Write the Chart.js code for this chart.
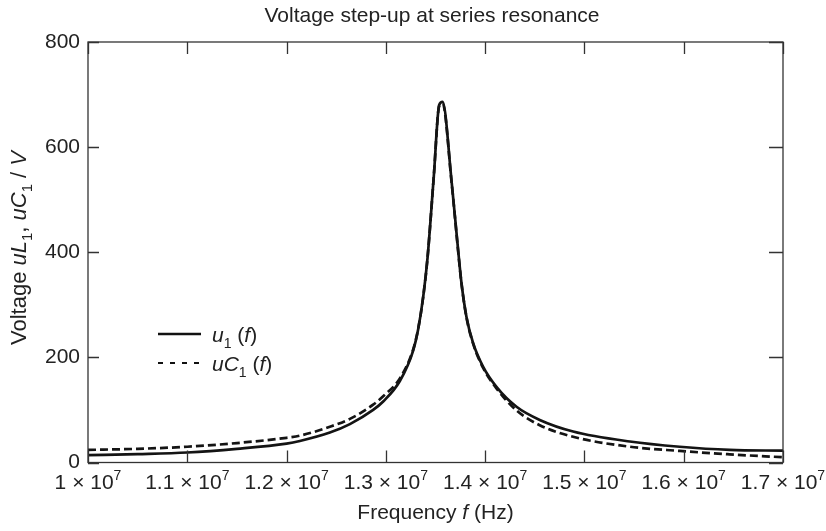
<!DOCTYPE html>
<html><head><meta charset="utf-8">
<script src="https://cdn.jsdelivr.net/npm/chart.js@4/dist/chart.umd.min.js"></script>
<style>html,body{margin:0;padding:0;background:#fff}#wrap{width:826px;height:531px}</style>
</head><body><div id="wrap"><canvas id="c" width="826" height="531"></canvas></div>
<script>
// ---- data ----
const freqs = [1.0e7, 1.05e7, 1.1e7, 1.15e7, 1.2e7, 1.2134e7, 1.2436e7, 1.2638e7, 1.2872e7, 1.2973e7,
  1.3141e7, 1.3275e7, 1.3326e7, 1.3376e7, 1.342e7, 1.3483e7, 1.3537e7, 1.3571e7, 1.3662e7, 1.3728e7,
  1.3762e7, 1.3812e7, 1.3879e7, 1.398e7, 1.4114e7, 1.4316e7, 1.455e7, 1.4886e7, 1.5457e7, 1.596e7,
  1.6463e7, 1.7e7];
const u1Vals = [14, 16, 19, 26, 36, 41, 57, 73, 100, 116,
  155, 213, 254, 315, 390, 545, 680, 686, 535, 404,
  341, 277, 227, 182, 144, 106, 81, 59, 40, 30,
  24, 22.5];
const uC1Vals = [24, 26, 30, 37, 47, 51, 68, 83, 110, 126,
  160, 215, 255, 315, 390, 545, 678, 683, 533, 402,
  340, 276, 226, 180, 141, 99, 71, 49, 30, 22,
  15.5, 10];
const xTickValues = [1.0e7, 1.1e7, 1.2e7, 1.3e7, 1.4e7, 1.5e7, 1.6e7, 1.7e7];
const xTickMantissa = ['1', '1.1', '1.2', '1.3', '1.4', '1.5', '1.6', '1.7'];
const yTickValues = [0, 200, 400, 600, 800];
const titleText = 'Voltage step-up at series resonance';
const seriesNames = [
  [{t:'u',it:1},{t:'1',sub:1},{t:' ('},{t:'f',it:1},{t:')'}],
  [{t:'uC',it:1},{t:'1',sub:1},{t:' ('},{t:'f',it:1},{t:')'}]
];
const xTitle = [{t:'Frequency '},{t:'f',it:1},{t:' (Hz)'}];
const yTitle = [{t:'Voltage '},{t:'uL',it:1},{t:'1',sub:1},{t:', '},{t:'uC',it:1},{t:'1',sub:1},{t:' / '},{t:'V',it:1}];

const FAM = '"Liberation Sans", Arial, sans-serif';
const TXT = '#222';
const FS = 21;

function segFont(s, size){ const z = (s.sub||s.sup) ? Math.round(size*0.68) : size; return (s.it?'italic ':'') + z + 'px ' + FAM; }
function drawRich(ctx, segs, x, y, size, align){
  ctx.save(); ctx.textBaseline = 'alphabetic'; ctx.textAlign = 'left'; ctx.fillStyle = TXT;
  let w = 0;
  for (const s of segs){ ctx.font = segFont(s,size); w += ctx.measureText(s.t).width; }
  let cx = align === 'center' ? x - w/2 : (align === 'right' ? x - w : x);
  for (const s of segs){
    ctx.font = segFont(s,size);
    const dy = s.sub ? size*0.28 : (s.sup ? -size*0.42 : 0);
    ctx.fillText(s.t, cx, y + dy);
    cx += ctx.measureText(s.t).width;
  }
  ctx.restore();
}

const framePlugin = {
  id: 'frame',
  afterDraw(chart){
    const ctx = chart.ctx, a = chart.chartArea;
    const xs = chart.scales.x, ys = chart.scales.y;
    ctx.save();
    ctx.strokeStyle = '#333'; ctx.lineWidth = 1.3;
    ctx.strokeRect(a.left, a.top, a.right - a.left, a.bottom - a.top);
    ctx.beginPath();
    for (const v of xTickValues){
      const p = Math.round(xs.getPixelForValue(v)) + 0.5;
      ctx.moveTo(p, a.bottom); ctx.lineTo(p, a.bottom - 12);
      ctx.moveTo(p, a.top); ctx.lineTo(p, a.top + 12);
    }
    for (const v of yTickValues){
      const p = Math.round(ys.getPixelForValue(v)) + 0.5;
      ctx.moveTo(a.left, p); ctx.lineTo(a.left + 11, p);
      ctx.moveTo(a.right, p); ctx.lineTo(a.right - 14, p);
    }
    ctx.stroke();
    // x tick labels
    xTickValues.forEach((v,i) => {
      const p = xs.getPixelForValue(v);
      drawRich(ctx, [{t:xTickMantissa[i] + ' \u00d7 10'},{t:'7',sup:1}], p, 489, FS, 'center');
    });
    // titles
    drawRich(ctx, [{t:titleText}], 432, 22, FS, 'center');
    drawRich(ctx, xTitle, (a.left + a.right)/2, 519, FS, 'center');
    ctx.save(); ctx.translate(25.5, 248); ctx.rotate(-Math.PI/2);
    drawRich(ctx, yTitle, 0, 0, 22, 'center'); ctx.restore();
    // legend
    const ly = [334, 363];
    ctx.strokeStyle = '#111';
    ctx.lineWidth = 2.4; ctx.setLineDash([]);
    ctx.beginPath(); ctx.moveTo(158, ly[0]); ctx.lineTo(201, ly[0]); ctx.stroke();
    ctx.lineWidth = 2; ctx.setLineDash([5,7]);
    ctx.beginPath(); ctx.moveTo(158, ly[1]); ctx.lineTo(201, ly[1]); ctx.stroke();
    ctx.setLineDash([]);
    drawRich(ctx, seriesNames[0], 212, ly[0] + 8, FS, 'left');
    drawRich(ctx, seriesNames[1], 212, ly[1] + 8, FS, 'left');
    ctx.restore();
  }
};

new Chart(document.getElementById('c'), {
  type: 'line',
  data: {
    datasets: [
      { label: 'u1 (f)', data: freqs.map((f,i) => ({x:f, y:u1Vals[i]})),
        borderColor: '#141414', borderWidth: 2.7, pointRadius: 0, fill: false,
        borderJoinStyle: 'miter', cubicInterpolationMode: 'monotone' },
      { label: 'uC1 (f)', data: freqs.map((f,i) => ({x:f, y:uC1Vals[i]})),
        borderColor: '#141414', borderWidth: 2.7, borderDash: [8,4], pointRadius: 0, fill: false,
        borderJoinStyle: 'miter', cubicInterpolationMode: 'monotone' }
    ]
  },
  options: {
    responsive: false, animation: false, devicePixelRatio: 1,
    layout: { padding: { left: 0, right: 43, top: 42, bottom: 0 } },
    plugins: { legend: { display: false }, title: { display: false }, tooltip: { enabled: false } },
    scales: {
      x: { type: 'linear', min: 1.0e7, max: 1.7e7,
        grid: { display: false, drawTicks: false }, border: { display: false },
        ticks: { display: false, stepSize: 1e6 },
        afterFit(s){ s.height = 68.5; } },
      y: { type: 'linear', min: 0, max: 800,
        grid: { display: false, drawTicks: false }, border: { display: false },
        ticks: { stepSize: 200, padding: 8, color: TXT, font: { family: FAM, size: FS } },
        afterFit(s){ s.width = 88; } }
    }
  },
  plugins: [framePlugin]
});
</script></body></html>
